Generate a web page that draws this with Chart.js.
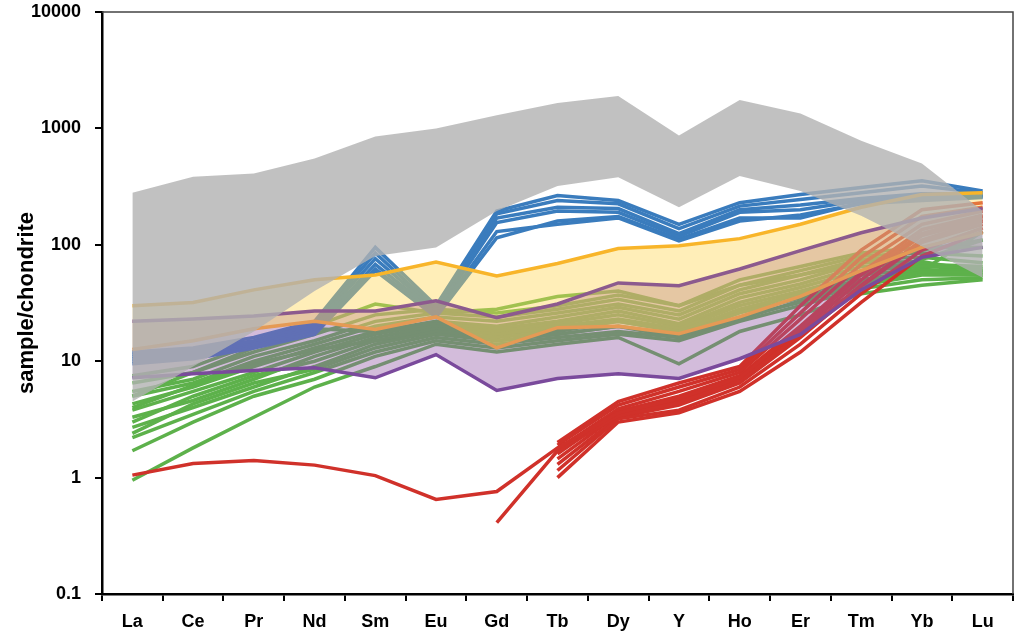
<!DOCTYPE html>
<html>
<head>
<meta charset="utf-8">
<script src="https://cdn.jsdelivr.net/npm/chart.js@4/dist/chart.umd.min.js"></script>
<style>
  html, body { margin: 0; padding: 0; background: #fff; }
  #wrap { width: 1024px; height: 644px; }
</style>
</head>
<body>
<div id="wrap"><canvas id="canvas"></canvas></div>
<script>
const elements = ['La', 'Ce', 'Pr', 'Nd', 'Sm', 'Eu', 'Gd', 'Tb', 'Dy', 'Y', 'Ho', 'Er', 'Tm', 'Yb', 'Lu'];
const yTicks = [0.1, 1, 10, 100, 1000, 10000];

// grey field
const greyTop = [280, 385, 410, 550, 850, 1000, 1300, 1650, 1900, 870, 1750, 1340, 785, 500, 195];
const greyBottom = [4.5, 9, 18, 40, 80, 95, 195, 320, 380, 210, 390, 290, 178, 97, 52];

// yellow field (gold upper, orange lower)
const goldLine = [30, 32, 41, 50, 55, 71, 54, 69, 93, 98, 113, 150, 210, 270, 280];
const orangeLine = [12.6, 15, 19, 22, 18.7, 24, 13, 19.4, 20, 17.2, 24, 36, 60, 95, 127];

// purple field (mauve upper, purple lower)
const mauveLine = [22, 23, 24.5, 27, 27, 33, 23.7, 31, 47, 44.5, 62, 89, 127, 170, 205];
const purpleLine = [7.2, 7.8, 8.3, 8.8, 7.2, 11.4, 5.6, 7.1, 7.8, 7.1, 10.5, 17, 41, 78, 95];

const blueSeries = [
  [12, 13, 16, 22, 95, 30, 195, 265, 240, 150, 230, 270, 310, 355, 290],
  [11.5, 12.5, 15, 21, 85, 28, 185, 240, 225, 138, 215, 245, 280, 320, 280],
  [11, 12, 14.5, 20, 76, 27, 170, 210, 205, 125, 200, 220, 250, 275, 270],
  [10.5, 11.5, 14, 19, 68, 26, 155, 195, 190, 118, 190, 200, 240, 260, 265],
  [10, 11, 13.5, 18, 62, 25, 130, 150, 170, 108, 160, 180, 225, 240, 255],
  [9.5, 10.5, 13, 17, 60, 24, 115, 160, 175, 112, 170, 170, 230, 250, 260]
];

const redSeries = [
  [1.05, 1.32, 1.4, 1.28, 1.04, 0.65, 0.76, 1.8, 3.6, 4.8, 7.2, 19, 55, 125, 175],
  [null, null, null, null, null, null, 0.41, 1.7, 3.4, 4.4, 6.8, 17, 45, 110, 160],
  [null, null, null, null, null, null, null, 1.0, 3.0, 3.6, 5.5, 12, 32, 80, 130],
  [null, null, null, null, null, null, null, 1.15, 3.2, 3.8, 6.0, 14, 38, 90, 140],
  [null, null, null, null, null, null, null, 1.3, 3.3, 4.2, 6.5, 16, 44, 105, 150],
  [null, null, null, null, null, null, null, 1.45, 3.5, 4.6, 7.0, 18, 50, 120, 165],
  [null, null, null, null, null, null, null, 1.6, 3.7, 5.0, 7.5, 20, 58, 135, 180],
  [null, null, null, null, null, null, null, 1.75, 3.9, 5.5, 8.0, 23, 68, 150, 195],
  [null, null, null, null, null, null, null, 1.9, 4.2, 6.0, 8.5, 26, 78, 175, 210],
  [null, null, null, null, null, null, null, 2.0, 4.5, 6.5, 9.0, 30, 90, 200, 230]
];

const greenSeries = [
  [0.95, 1.8, 3.3, 6.0, 9.0, 14, 12, 14, 16, 9.5, 18, 25, 38, 45, 50],
  [1.7, 3.0, 5.0, 7.0, 11, 15, 13, 15, 17, 15, 22, 30, 42, 50, 52],
  [2.2, 3.5, 5.5, 8.0, 12, 16, 14, 16, 18, 16, 24, 32, 45, 55, 55],
  [2.4, 4.3, 6.5, 8.5, 13, 17, 15, 17, 20, 17, 26, 35, 48, 58, 58],
  [2.7, 4.0, 6.0, 9.0, 14, 18, 16, 18, 22, 18, 28, 38, 50, 60, 60],
  [3.0, 5.0, 7.5, 10, 15, 19, 17, 20, 23, 19, 30, 40, 55, 62, 55],
  [3.3, 4.6, 7.0, 11, 16, 20, 18, 21, 25, 20, 32, 43, 60, 65, 62],
  [3.8, 5.5, 8.0, 12, 17, 21, 19, 22, 27, 21, 35, 46, 65, 68, 65],
  [4.3, 6.0, 9.0, 13, 18, 22, 20, 24, 29, 23, 38, 50, 70, 72, 58],
  [5.0, 6.5, 10, 14, 20, 24, 22, 26, 31, 25, 41, 55, 75, 78, 70],
  [5.5, 7.0, 11, 15, 22, 26, 24, 28, 34, 27, 45, 60, 80, 85, 80],
  [6.5, 8.0, 12, 17, 25, 28, 26, 30, 37, 30, 50, 65, 85, 95, 95],
  [7.5, 9.0, 14, 19, 18, 20, 17, 19, 22, 18, 27, 38, 55, 75, 110],
  [4.0, 6.2, 9.5, 12.5, 15, 18, 15, 17, 20, 16, 23, 33, 46, 60, 130],
  [5.0, 8.0, 13, 20, 31, 26, 28, 36, 40, 30, 45, 55, 70, 90, 110]
];

const datasets = [];

function addLine(data, color, order, width) {
  datasets.push({
    data: data,
    borderColor: color,
    borderWidth: width,
    pointRadius: 0,
    pointHoverRadius: 0,
    tension: 0,
    fill: false,
    order: order
  });
}

function addBand(top, bottom, color, order) {
  const i = datasets.length;
  datasets.push({
    data: top,
    borderColor: 'rgba(0,0,0,0)',
    borderWidth: 0,
    pointRadius: 0,
    backgroundColor: color,
    fill: { target: i + 1 },
    order: order
  });
  datasets.push({
    data: bottom,
    borderColor: 'rgba(0,0,0,0)',
    borderWidth: 0,
    pointRadius: 0,
    fill: false,
    order: order
  });
}

// lower "order" is painted on top
addBand(greyTop, greyBottom, 'rgba(178,178,178,0.8)', 0);
addLine(goldLine, '#F8B52A', 1, 3.5);
addLine(orangeLine, '#E59A55', 1, 3.5);
addLine(mauveLine, '#8C5A8E', 1, 3.5);
addLine(purpleLine, '#7A4A9C', 1, 3.5);
addBand(goldLine, orangeLine, 'rgba(255,215,85,0.42)', 2);
addBand(mauveLine, purpleLine, 'rgba(150,95,170,0.42)', 2);
blueSeries.forEach((s) => addLine(s, '#3A7CBD', 3, 3.5));
redSeries.forEach((s) => addLine(s, '#D0312A', 4, 3.5));
greenSeries.forEach((s) => addLine(s, '#5DB14B', 5, 3.5));

const frame = {
  id: 'frame',
  afterDraw(chart) {
    const { ctx, chartArea } = chart;
    ctx.save();
    ctx.strokeStyle = '#444';
    ctx.lineWidth = 1.5;
    ctx.beginPath();
    ctx.moveTo(chartArea.left, chartArea.top);
    ctx.lineTo(chartArea.right, chartArea.top);
    ctx.lineTo(chartArea.right, chartArea.bottom);
    ctx.stroke();
    ctx.restore();
  }
};

const tickFont = { family: 'Liberation Sans', size: 18, weight: 'bold' };

new Chart(document.getElementById('canvas'), {
  type: 'line',
  data: { labels: elements, datasets: datasets },
  options: {
    responsive: true,
    maintainAspectRatio: false,
    animation: false,
    layout: { padding: { top: 12, right: 11, left: 0, bottom: 0 } },
    plugins: { legend: { display: false }, tooltip: { enabled: false } },
    scales: {
      x: {
        type: 'category',
        offset: true,
        grid: { offset: true, drawOnChartArea: false, drawTicks: true, tickLength: 7, color: '#000', lineWidth: 2 },
        border: { display: true, color: '#000', width: 2.5 },
        ticks: { color: '#000', font: tickFont, padding: 10, maxRotation: 0, autoSkip: false },
        afterFit(scale) {
          scale.height = 50;
          scale.paddingLeft = 0;
          scale.paddingRight = 0;
        }
      },
      y: {
        type: 'logarithmic',
        min: 0.1,
        max: 10000,
        afterBuildTicks(scale) {
          scale.ticks = yTicks.map((v) => ({ value: v, major: true }));
        },
        grid: { drawOnChartArea: false, drawTicks: true, tickLength: 7, color: '#000', lineWidth: 2 },
        border: { display: true, color: '#000', width: 2.5 },
        ticks: { color: '#000', font: tickFont, padding: 14, callback: (v) => String(v) },
        title: {
          display: true,
          text: 'sample/chondrite',
          color: '#000',
          font: { family: 'Liberation Sans', size: 22, weight: 'bold' },
          padding: { top: 14, bottom: 0 }
        },
        afterFit(scale) {
          scale.width = 102;
          scale.paddingTop = 0;
          scale.paddingBottom = 0;
        }
      }
    }
  },
  plugins: [frame]
});
</script>
</body>
</html>
